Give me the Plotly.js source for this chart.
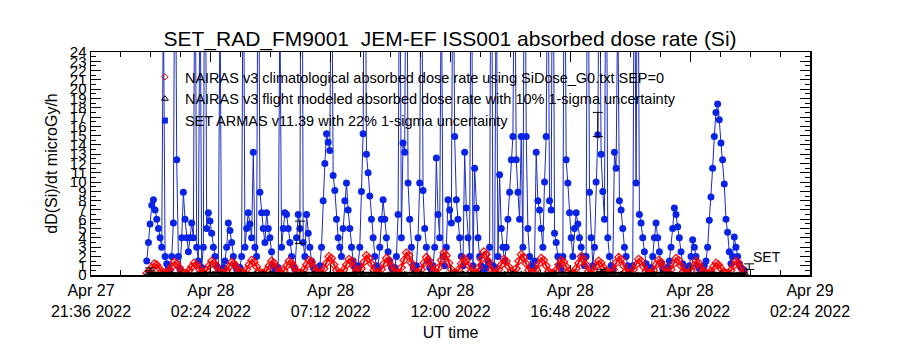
<!DOCTYPE html>
<html>
<head>
<meta charset="utf-8">
<script src="https://cdn.plot.ly/plotly-3.0.1.min.js"></script>
<style>html,body{margin:0;padding:0;background:#fff}#chart{width:900px;height:350px}</style>
</head>
<body>
<div id="chart"></div>
<script>
// ---- data ----
// SET ARMAS absorbed dose rate, 4-minute cadence starting 2022-04-27 23:50 UT
const setStart = '2022-04-27T23:50:00Z';
const setStepMin = 4;
const setValues = [
  1.5, 3.5, 5.5, 7.5, 8.1, 7,
  6, 5, 4, 3, 30, 2,
  1.2, 0.8, 0.5, 2, 5.6, 45,
  12.4, 2, 0.6, 4, 8.9, 6,
  4, 2.5, 4, 5.6, 4, 40,
  3, 1.5, 35, 0.8, 3, 50,
  5, 6.7, 5.8, 4.5, 3, 2,
  1, 0.6, 30, 0.5, 0.8, 1.5,
  3, 5.6, 4.8, 3.5, 2, 1,
  0.6, 0.5, 0.8, 2, 40, 3,
  5, 6.7, 5.5, 4, 13.2, 3,
  2, 45, 8.9, 6.7, 5, 3.5,
  6.7, 5, 4, 2.5, 1, 0.6,
  0.5, 0.8, 30, 3, 5, 6.7,
  6.5, 5, 3.5, 2, 1, 0.6,
  4, 6.5, 5, 60, 3.5, 2,
  6.5, 4.5, 3, 1.5, 0.8, 0.5,
  0.5, 0.6, 1, 3, 8, 12,
  15.2, 14.3, 13.4, 40, 10.7, 9.1,
  6, 4, 3, 2, 5, 8,
  9.9, 7, 5, 3, 1.5, 0.8,
  0.6, 1, 3, 9, 15.2, 50,
  13, 11, 8.5, 6, 4, 2,
  1, 0.7, 3, 6, 8.1, 6,
  4, 2.5, 1.5, 0.8, 0.6, 0.8,
  2, 6.5, 40, 4, 14.2, 13.2,
  50, 9.9, 6, 3, 1, 0.6,
  1, 4, 9.9, 45, 9.1, 5,
  3, 1.5, 0.8, 0.6, 1, 3,
  12.6, 6.5, 4, 35, 2, 1,
  3, 8.1, 7, 5.6, 40, 14.9,
  8.1, 6, 4, 2, 1, 13.2,
  7.2, 4, 2, 45, 1, 11.5,
  7.2, 4, 2, 1, 0.7, 0.6,
  0.8, 1.5, 3, 50, 1, 0.8,
  35, 2, 10.8, 5, 3, 1.5,
  3, 6, 8.9, 12.4, 14.9, 40,
  12.4, 8.9, 6, 14.9, 3, 45,
  14.9, 5, 2, 1, 0.8, 1.5,
  13.2, 8, 7, 5, 3, 10,
  14.9, 40, 8, 7, 50, 4.5,
  3.5, 2, 1, 0.7, 2, 45,
  12.4, 9.9, 6.7, 4, 2, 5,
  6.7, 5.5, 4, 3, 2, 1,
  2, 50, 8.9, 4, 1, 3,
  10, 15.1, 40, 13, 9, 6,
  45, 4, 2, 1, 0.6, 13.2,
  11.5, 30, 8, 7, 5, 3,
  2, 1, 0.7, 0.6, 1, 40,
  9.9, 45, 6.5, 5.6, 4, 2.5,
  1.2, 0.7, 0.6, 0.8, 2, 4,
  5.6, 4, 2.5, 1.2, 0.7, 0.6,
  0.6, 0.8, 1.5, 3, 5, 7.2,
  6.5, 5.2, 4, 2.5, 1.2, 0.7,
  0.6, 0.6, 1, 2, 3.8, 3,
  2, 1, 0.7, 0.6, 0.7, 1,
  1.5, 3, 5.9, 8.4, 11.5, 14.9,
  17.5, 18.4, 16.7, 14.2, 12.4, 9.8,
  6, 4.6, 2.5, 1.2, 2, 4.1,
  3, 2, 1.2, 0.8, 0.6, 0.5
];

// NAIRAS v3 climatological absorbed dose rate, 6-minute cadence from 23:50 UT
const climStart = '2022-04-27T23:50:00Z';
const climStepMin = 6;
const climValues = [
  0.2,0.4,0.8,1.2,1.1,0.7,0.4,0.2,
  0.2,0.5,0.9,1.4,1.2,0.8,0.4,0.2,
  0.2,0.5,0.9,1.3,1.1,0.7,0.3,
  0.2,0.5,1.0,1.5,1.3,0.9,0.4,0.2,
  0.2,0.5,0.9,1.4,1.2,0.8,0.4,0.2,
  0.2,0.6,1.1,1.6,1.4,0.9,0.4,0.2,
  0.2,0.5,1.0,1.5,1.3,0.8,0.3,
  0.2,0.5,1.0,1.5,1.3,0.9,0.4,0.2,
  0.2,0.6,1.1,1.6,1.4,0.9,0.4,0.2,
  0.2,0.7,1.3,2.0,1.8,1.1,0.5,0.2,
  0.2,0.6,1.1,1.7,1.5,0.9,0.4,
  0.2,0.7,1.4,2.1,1.8,1.2,0.5,0.2,
  0.2,0.6,1.2,1.8,1.6,1.0,0.4,0.2,
  0.2,0.8,1.6,2.4,2.1,1.3,0.6,0.2,
  0.2,0.6,1.3,1.9,1.6,1.0,0.4,
  0.2,0.8,1.6,2.4,2.1,1.3,0.6,0.2,
  0.2,0.6,1.2,1.8,1.6,1.0,0.4,0.2,
  0.2,0.8,1.7,2.5,2.2,1.4,0.6,0.2,
  0.2,0.6,1.1,1.7,1.5,0.9,0.4,
  0.2,0.7,1.5,2.2,1.9,1.2,0.5,0.2,
  0.2,0.6,1.2,1.8,1.6,1.0,0.4,0.2,
  0.2,0.5,1.1,1.6,1.4,0.9,0.4,0.2,
  0.2,0.7,1.3,2.0,1.7,1.1,0.4,
  0.2,0.5,1.0,1.5,1.3,0.8,0.4,0.2,
  0.2,0.6,1.3,1.9,1.7,1.0,0.4,0.2,
  0.2,0.6,1.1,1.7,1.5,0.9,0.4,0.2,
  0.2,0.5,1.1,1.6,1.4,0.9,0.3,
  0.2,0.6,1.2,1.8,1.6,1.0,0.4,0.2,
  0.2,0.5,1.0,1.5,1.3,0.8,0.4,0.2,
  0.2,0.4,0.9,1.3,1.1,0.7,0.3,0.2,
  0.2,0.5,1.0,1.5,1.3,0.8,0.3
];

// NAIRAS v3 flight modeled absorbed dose rate, 20-minute cadence from 23:50 UT
const flightStart = '2022-04-27T23:50:00Z';
const flightStepMin = 20;
const flightValues = [
  0.15,0.18,0.2,0.17,0.14,0.12,0.15,0.19,0.22,0.18,0.15,0.13,
  0.16,0.2,0.23,0.19,0.15,0.12,0.14,0.18,0.21,0.18,0.15,0.13,
  0.15,0.19,0.22,0.2,0.16,0.13,0.14,0.18,0.22,0.19,0.16,0.13,
  0.15,0.2,0.23,0.19,0.15,0.13,0.15,0.19,0.22,0.18,0.15,0.12,
  0.14,0.18,0.21,0.18,0.15,0.13,0.15,0.19,0.22,0.19,0.15,0.12,
  0.14,0.18,0.21,0.18,0.14,0.12,0.15,0.18,0.2,0.17,0.14,0.12,0.14
];

// sparse SET ARMAS points shown with 22% 1-sigma error bars
const errTimes = ['2022-04-27T23:58:00Z','2022-04-28T05:58:00Z','2022-04-28T17:54:00Z','2022-04-28T18:04:00Z','2022-04-28T23:58:00Z'];
const errValues = [0.6, 4.6, 16.2, 0.5, 0.9];
const errSigma = [0.15, 1.2, 1.3, 0.12, 0.3];

// axis tick labels
const xTickVals = ['2022-04-27T21:36:00Z','2022-04-28T02:24:00Z','2022-04-28T07:12:00Z','2022-04-28T12:00:00Z','2022-04-28T16:48:00Z','2022-04-28T21:36:00Z','2022-04-29T02:24:00Z'];
const xTickText = ['Apr 27<br>21:36 2022','Apr 28<br>02:24 2022','Apr 28<br>07:12 2022','Apr 28<br>12:00 2022','Apr 28<br>16:48 2022','Apr 28<br>21:36 2022','Apr 29<br>02:24 2022'];
const yTickVals = [0,1,2,3,4,5,6,7,8,9,10,11,12,13,14,15,16,17,18,19,20,21,22,23,24];

const legendNames = [
  'NAIRAS v3 climatological absorbed dose rate using SiDose_G0.txt SEP=0',
  'NAIRAS v3 flight modeled absorbed dose rate with 10% 1-sigma uncertainty',
  'SET ARMAS v11.39 with 22% 1-sigma uncertainty'
];

// ---- helpers ----
function fmt(ms){
  const d = new Date(ms);
  const p = n => String(n).padStart(2,'0');
  return d.getUTCFullYear()+'-'+p(d.getUTCMonth()+1)+'-'+p(d.getUTCDate())+' '+p(d.getUTCHours())+':'+p(d.getUTCMinutes())+':'+p(d.getUTCSeconds());
}
function times(start, stepMin, n){
  const t0 = Date.parse(start), out = [];
  for (let i = 0; i < n; i++) out.push(fmt(t0 + i*stepMin*60000));
  return out;
}
const isoFix = s => fmt(Date.parse(s));

const FONT = 'Liberation Sans, Arial, sans-serif';
const BLUE = '#0a24e6';
const BLUELINE = '#1a2cc0';

const traces = [
  {x: times(setStart, setStepMin, setValues.length), y: setValues, type:'scatter', mode:'lines+markers',
   line:{color:BLUELINE, width:1}, marker:{color:BLUE, size:7, symbol:'circle'}, showlegend:false},
  {x: times(climStart, climStepMin, climValues.length), y: climValues, type:'scatter', mode:'lines+markers',
   line:{color:'#ff0000', width:2}, marker:{color:'#ff0000', size:6, symbol:'diamond-open', line:{width:1.2}}, showlegend:false},
  {x: times(flightStart, flightStepMin, flightValues.length), y: flightValues, type:'scatter', mode:'lines+markers',
   line:{color:'#000000', width:3}, marker:{color:'#000000', size:4, symbol:'triangle-up-open'}, showlegend:false},
  {x: errTimes.map(isoFix), y: errValues, type:'scatter', mode:'markers', marker:{size:1, color:'#000'},
   error_y:{type:'data', array:errSigma, visible:true, color:'#000', thickness:1, width:5}, showlegend:false},
  // legend entries
  {x:[null], y:[null], type:'scatter', mode:'markers', name:legendNames[0], marker:{color:'#cc0000', size:5, symbol:'diamond-open'}},
  {x:[null], y:[null], type:'scatter', mode:'markers', name:legendNames[1], marker:{color:'#000', size:6, symbol:'triangle-up-open'}},
  {x:[null], y:[null], type:'scatter', mode:'markers', name:legendNames[2], marker:{color:BLUE, size:6, symbol:'square'}}
];

const layout = {
  width:900, height:350,
  margin:{l:91, r:90, t:52, b:75},
  paper_bgcolor:'#fff', plot_bgcolor:'#fff',
  font:{family:FONT, color:'#000'},
  title:{text:'SET_RAD_FM9001  JEM-EF ISS001 absorbed dose rate (Si)', font:{size:21, family:FONT, color:'#000'},
         x:0.5, xanchor:'center', y:0.89, yref:'container', yanchor:'middle'},
  xaxis:{type:'date', range:['2022-04-27 21:36:00','2022-04-29 02:24:00'],
         tickmode:'array', tickvals:xTickVals.map(isoFix), ticktext:xTickText,
         ticks:'inside', ticklen:10, tickcolor:'#000', tickwidth:1,
         showline:true, linecolor:'#000', linewidth:1.5, mirror:'ticks',
         showgrid:false, zeroline:false, tickfont:{size:16, family:FONT},
         minor:{ticks:'inside', ticklen:5, tickcolor:'#000', dtick:4320000, tick0:'2022-04-27 21:36:00', showgrid:false},
         title:{text:'UT time', font:{size:16, family:FONT}, standoff:8}},
  yaxis:{range:[0,24], tickmode:'array', tickvals:yTickVals, ticktext:yTickVals.map(String),
         ticks:'inside', ticklen:10, tickcolor:'#000', tickwidth:1,
         showline:true, linecolor:'#000', linewidth:1.5, mirror:'ticks',
         showgrid:false, zeroline:false, tickfont:{size:15, family:FONT},
         minor:{ticks:'inside', ticklen:5, tickcolor:'#000', dtick:0.5, showgrid:false},
         title:{text:'dD(Si)/dt microGy/h', font:{size:16, family:FONT}, standoff:8}},
  legend:{x:0.075, xanchor:'left', y:0.96, yanchor:'top', bgcolor:'rgba(0,0,0,0)', borderwidth:0,
          font:{size:14.5, family:FONT, color:'#000'}, tracegroupgap:0},
  annotations:[{x:isoFix('2022-04-28T23:58:00Z'), y:1.9, xref:'x', yref:'y', text:'SET', showarrow:false,
                xanchor:'left', yanchor:'middle', xshift:2, font:{size:14, family:FONT, color:'#000'}}],
  showlegend:true
};

Plotly.newPlot('chart', traces, layout, {displayModeBar:false, staticPlot:true});
</script>
</body>
</html>
